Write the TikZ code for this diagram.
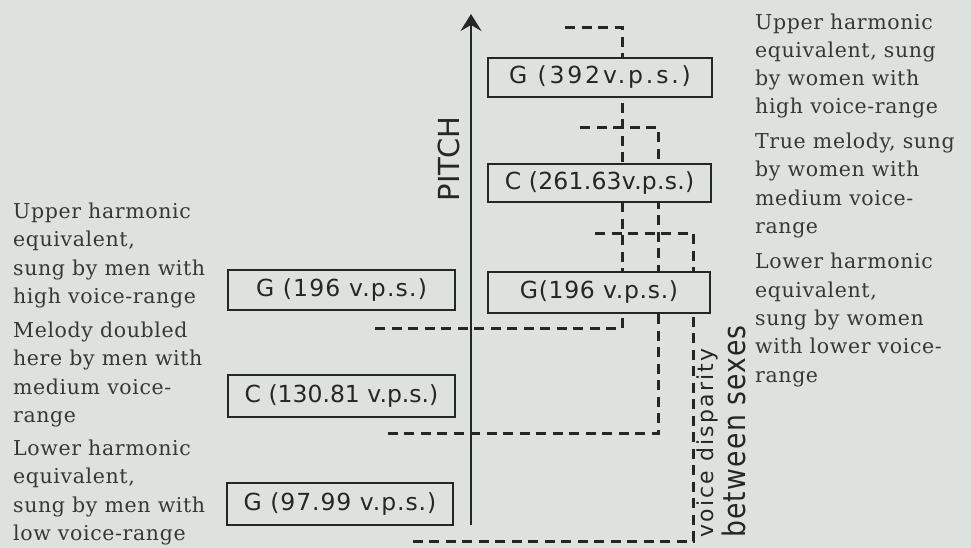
\documentclass[tikz,border=0pt]{standalone}
\usepackage{fontspec}
\usetikzlibrary{arrows.meta}
\newfontfamily\stencil{DejaVu Sans}
\newfontfamily\stencilwide[LetterSpace=10]{DejaVu Sans}
\newfontfamily\stencilnarrow[FakeStretch=0.86,LetterSpace=4]{DejaVu Sans}
\newfontfamily\bodyserif[LetterSpace=3]{DejaVu Serif}
\definecolor{paper}{RGB}{222,226,222}
\definecolor{ink}{RGB}{38,38,38}
\definecolor{printink}{RGB}{55,55,55}
\newcommand{\tracking}[1]{\addfontfeature{LetterSpace=#1}}
\begin{document}
\begin{tikzpicture}[x=1pt,y=-1pt,
  notebox/.style={draw=ink, line width=2.8pt, fill=paper, inner sep=0pt,
    text=ink, font=\stencil\fontsize{23.5}{25}\selectfont},
  guide/.style={draw=ink, line width=3pt, dash pattern=on 10pt off 6.5pt},
  note/.style={align=left, anchor=west, inner sep=0pt, text=printink,
    font=\bodyserif\fontsize{20.5}{28.3}\selectfont},
  axisline/.style={draw=ink, line width=2.5pt}]
\fill[paper] (0,0) rectangle (971,548);
\useasboundingbox (0,0) rectangle (971,548);

% guide coordinates
\coordinate (a0) at (565,28);  \coordinate (a1) at (622,28);
\coordinate (a2) at (622,328); \coordinate (a3) at (370,328);
\coordinate (b0) at (580,128); \coordinate (b1) at (658,128);
\coordinate (b2) at (658,433); \coordinate (b3) at (388,433);
\coordinate (c0) at (595,233); \coordinate (c1) at (693,233);
\coordinate (c2) at (693,541); \coordinate (c3) at (408,541);

\draw[guide] (a0) -- (a1) -- (a2) -- (a3);
\draw[guide] (b0) -- (b1) -- (b2) -- (b3);
\draw[guide] (c0) -- (c1) -- (c2) -- (c3);

% pitch axis
\coordinate (axb) at (471,525);
\coordinate (axt) at (471,14);
\draw[axisline, -{Stealth[length=17pt,width=21pt,inset=6pt]}] (axb) -- (axt);
\node[rotate=90, text=ink, font=\stencil\fontsize{29}{30}\selectfont, inner sep=0pt] (pitch) at (449,159) {PITCH};

% note boxes
\node[notebox, minimum width=224pt, minimum height=39pt] (g392) at (600,77.5) {\tracking{12}G (392v.p.s.)};
\node[notebox, minimum width=223pt, minimum height=38pt] (c261) at (599.5,183) {\tracking{1}C (261.63v.p.s.)};
\node[notebox, minimum width=222pt, minimum height=41pt] (g196r) at (599,292.5) {\tracking{3}G(196 v.p.s.)};
\node[notebox, minimum width=227pt, minimum height=40pt] (g196l) at (341.5,290) {\tracking{5}G (196 v.p.s.)};
\node[notebox, minimum width=227pt, minimum height=42pt] (c130) at (341.5,396) {\tracking{0}C (130.81 v.p.s.)};
\node[notebox, minimum width=226pt, minimum height=42pt] (g98) at (340,504) {\tracking{4}G (97.99 v.p.s.)};

% voice disparity label
\node[rotate=90, anchor=base west, inner sep=0pt, text=ink,
  font=\stencilwide\fontsize{22}{24}\selectfont] (disp1) at (713,538) {voice disparity};
\node[rotate=90, anchor=base west, inner sep=0pt, text=ink,
  font=\stencilnarrow\fontsize{31}{33}\selectfont] (disp2) at (745,538) {between sexes};

% left notes
\node[note] (lhi) at (13,255.5) {Upper harmonic\\equivalent,\\sung by men with\\high voice-range};
\node[note] (lmid) at (13,374.5) {Melody doubled\\here by men with\\medium voice-\\range};
\node[note] (llow) at (13,492.5) {Lower harmonic\\equivalent,\\sung by men with\\low voice-range};

% right notes
\node[note] (rhi) at (755,66) {Upper harmonic\\equivalent, sung\\by women with\\high voice-range};
\node[note] (rmid) at (755,185.5) {True melody, sung\\by women with\\medium voice-\\range};
\node[note] (rlow) at (755,320) {Lower harmonic\\equivalent,\\sung by women\\with lower voice-\\range};
\end{tikzpicture}
\end{document}
